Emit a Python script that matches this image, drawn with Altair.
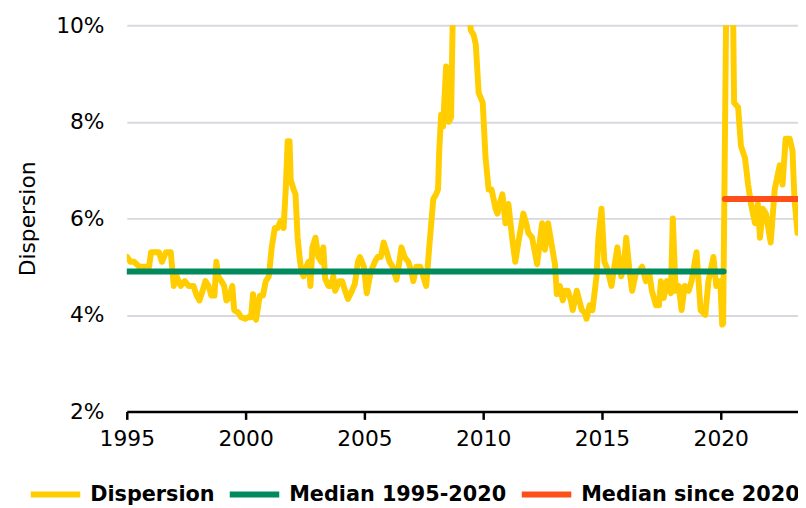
import altair as alt
import pandas as pd

# Dispersion series (decimal year, percent)
years = [1995.02, 1995.15, 1995.31, 1995.52, 1995.94, 1996.02, 1996.35, 1996.48, 1996.65, 1996.85,
         1996.98, 1997.10, 1997.27, 1997.44, 1997.60, 1997.81, 1997.94, 1998.06, 1998.19, 1998.31,
         1998.44, 1998.56, 1998.69, 1998.77, 1998.85, 1998.98, 1999.10, 1999.19, 1999.31, 1999.44,
         1999.52, 1999.69, 1999.81, 1999.98, 2000.10, 2000.23, 2000.31, 2000.44, 2000.60, 2000.73,
         2000.85, 2000.98, 2001.10, 2001.23, 2001.35, 2001.48, 2001.60, 2001.69, 2001.77, 2001.85,
         2001.90, 2002.02, 2002.10, 2002.19, 2002.27, 2002.35, 2002.44, 2002.56, 2002.65, 2002.73,
         2002.81, 2002.94, 2003.06, 2003.19, 2003.27, 2003.35, 2003.48, 2003.60, 2003.69, 2003.77,
         2003.94, 2004.06, 2004.19, 2004.31, 2004.48, 2004.60, 2004.73, 2004.81, 2004.98, 2005.10,
         2005.23, 2005.31, 2005.44, 2005.56, 2005.69, 2005.81, 2005.94, 2006.06, 2006.19, 2006.35,
         2006.44, 2006.56, 2006.69, 2006.85, 2006.98, 2007.06, 2007.19, 2007.35, 2007.48, 2007.60,
         2007.73, 2007.90, 2008.02, 2008.10, 2008.15, 2008.23, 2008.31, 2008.44, 2008.52, 2008.56,
         2008.65, 2008.73, 2008.85, 2009.06, 2009.27, 2009.40, 2009.48, 2009.60, 2009.69, 2009.81,
         2009.98, 2010.10, 2010.23, 2010.35, 2010.44, 2010.52, 2010.60, 2010.69, 2010.81, 2010.94,
         2011.06, 2011.23, 2011.35, 2011.48, 2011.69, 2011.81, 2011.90, 2012.06, 2012.27, 2012.48,
         2012.60, 2012.73, 2012.90, 2013.02, 2013.10, 2013.23, 2013.35, 2013.44, 2013.56, 2013.69,
         2013.77, 2013.94, 2014.15, 2014.27, 2014.35, 2014.48, 2014.60, 2014.77, 2014.85, 2014.98,
         2015.10, 2015.23, 2015.40, 2015.52, 2015.65, 2015.81, 2015.94, 2016.02, 2016.15, 2016.27,
         2016.44, 2016.56, 2016.69, 2016.85, 2016.98, 2017.10, 2017.27, 2017.40, 2017.48, 2017.60,
         2017.73, 2017.90, 2017.98, 2018.10, 2018.23, 2018.35, 2018.48, 2018.65, 2018.77, 2018.98,
         2019.15, 2019.35, 2019.48, 2019.69, 2019.81, 2019.98, 2020.06, 2020.10, 2020.23, 2020.31,
         2020.44, 2020.52, 2020.56, 2020.73, 2020.85, 2021.02, 2021.15, 2021.27, 2021.44, 2021.56,
         2021.65, 2021.77, 2021.90, 2022.10, 2022.27, 2022.48, 2022.60, 2022.73, 2022.90, 2023.02,
         2023.10, 2023.23]
dispersion = [5.2, 5.1, 5.1, 5.0, 5.0, 5.3, 5.3, 5.1, 5.3, 5.3,
              4.6, 4.8, 4.6, 4.7, 4.6, 4.6, 4.4, 4.3, 4.5, 4.7,
              4.6, 4.4, 4.4, 5.1, 4.8, 4.7, 4.6, 4.3, 4.35, 4.6,
              4.1, 4.05, 3.95, 3.92, 3.95, 3.95, 4.43, 3.9, 4.4, 4.4,
              4.7, 4.8, 5.4, 5.8, 5.8, 5.95, 5.8, 6.6, 7.6, 7.6,
              6.8, 6.6, 6.5, 5.6, 5.2, 4.9, 4.8, 5.0, 5.1, 4.6,
              5.4, 5.6, 5.2, 5.1, 5.4, 4.75, 4.6, 4.6, 4.8, 4.5,
              4.7, 4.7, 4.5, 4.33, 4.5, 4.65, 5.1, 5.2, 5.0, 4.45,
              4.8, 4.95, 5.1, 5.2, 5.2, 5.5, 5.3, 5.1, 5.0, 4.73,
              5.0, 5.4, 5.2, 5.1, 4.9, 4.7, 5.0, 5.0, 4.8, 4.6,
              5.4, 6.4, 6.5, 6.6, 7.4, 8.15, 7.9, 9.15, 9.0, 8.0,
              8.1, 10.5, 11.8, 12.3, 11.5, 10.3, 9.9, 9.8, 9.6, 8.6,
              8.4, 7.25, 6.6, 6.6, 6.4, 6.2, 6.1, 6.3, 6.5, 5.9,
              6.3, 5.55, 5.1, 5.5, 6.1, 5.9, 5.7, 5.6, 5.05, 5.9,
              5.35, 5.9, 5.4, 5.05, 4.43, 4.6, 4.3, 4.5, 4.5, 4.3,
              4.1, 4.5, 4.1, 4.05, 3.92, 4.2, 4.1, 4.8, 5.6, 6.2,
              5.1, 4.95, 4.6, 5.0, 5.4, 4.8, 5.1, 5.6, 4.95, 4.5,
              4.9, 4.9, 5.0, 4.7, 4.9, 4.5, 4.2, 4.2, 4.7, 4.35,
              4.7, 4.45, 6.0, 4.5, 4.6, 4.1, 4.6, 4.5, 4.7, 5.3,
              4.1, 4.0, 4.7, 5.2, 4.6, 4.7, 3.8, 3.82, 10.5, 12.5,
              11.5, 10.2, 8.4, 8.3, 7.5, 7.25, 6.7, 6.3, 5.9, 6.3,
              5.6, 6.2, 6.1, 5.5, 6.6, 7.1, 6.7, 7.65, 7.65, 7.4,
              6.4, 5.7]

median_early_years = [1995.0, 2020.12]
median_early = [4.9, 4.9]
median_late_years = [2020.17, 2023.3]
median_late = [6.4, 6.4]

series_names = ["Dispersion", "Median 1995-2020", "Median since 2020"]
series_colors = ["#ffcd00", "#008a5e", "#ff4f19"]
x_ticks = [1995, 2000, 2005, 2010, 2015, 2020]
y_ticks = [2, 4, 6, 8, 10]

df_d = pd.DataFrame({"year": years, "value": dispersion, "series": series_names[0]})
df_m1 = pd.DataFrame({"year": median_early_years, "value": median_early, "series": series_names[1]})
df_m2 = pd.DataFrame({"year": median_late_years, "value": median_late, "series": series_names[2]})

FONT = "DejaVu Sans"

color = alt.Color(
    "series:N",
    scale=alt.Scale(domain=series_names, range=series_colors),
    legend=alt.Legend(
        title=None,
        orient="none",
        direction="horizontal",
        legendX=-100,
        legendY=446,
        symbolType="stroke",
        symbolStrokeWidth=6,
        symbolSize=2500,
        labelFont=FONT,
        labelFontSize=21,
        labelFontWeight="bold",
        labelColor="#000000",
        labelLimit=400,
        labelOffset=7,
        columnPadding=3,
    ),
)

x = alt.X(
    "year:Q",
    scale=alt.Scale(domain=[1995, 2023.25], nice=False, zero=False),
    axis=alt.Axis(
        values=x_ticks, format="d", title=None, grid=False,
        domainColor="#000000", domainWidth=2.5,
        tickColor="#000000", tickWidth=2.5, tickSize=8,
        labelFont=FONT, labelFontSize=22, labelColor="#000000", labelPadding=9,
        labelFlush=False,
    ),
)
y = alt.Y(
    "value:Q",
    scale=alt.Scale(domain=[2, 10], nice=False, zero=False),
    axis=alt.Axis(
        values=y_ticks, labelExpr="datum.value + '%'", title="Dispersion",
        grid=True, gridColor="#d8d8de", gridWidth=2,
        domain=False, ticks=False,
        labelFont=FONT, labelFontSize=22, labelColor="#000000", labelPadding=23,
        titleFont=FONT, titleFontSize=22, titleFontWeight="normal", titleColor="#000000",
        titlePadding=16,
    ),
)


def line(df):
    return alt.Chart(df).mark_line(
        strokeWidth=6, strokeCap="round", strokeJoin="round", clip=True
    ).encode(x=x, y=y, color=color)


chart = alt.layer(line(df_d), line(df_m1), line(df_m2)).properties(
    width=678,
    height=390,
    autosize=alt.AutoSizeParams(type="none"),
    padding={"left": 120, "top": 15, "right": 0, "bottom": 92},
).configure_view(stroke=None)

chart.save("out.html", embed_options={"renderer": "svg", "actions": False})
